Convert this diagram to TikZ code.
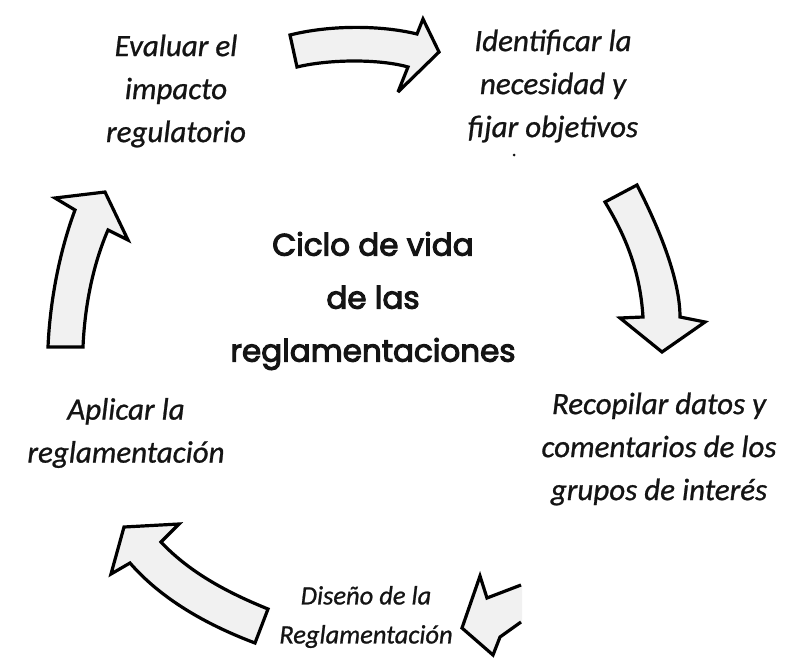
\documentclass[tikz,border=0pt]{standalone}
\usepackage{fontspec}
\setmainfont{Carlito}[ItalicFeatures={FakeBold=0.8}]
\newfontfamily\titlefont{Poppins}[FakeBold=3.5]
\definecolor{arrowfill}{HTML}{F1F1F1}
\definecolor{ink}{HTML}{141414}
\tikzset{
  bigarrow/.style={draw=black, fill=arrowfill, line width=3.2pt, line join=miter, miter limit=4},
  lbl/.style={align=center, text=ink, inner sep=0pt, font=\fontsize{31}{43}\selectfont\itshape},
  smalllbl/.style={align=center, text=ink, inner sep=0pt, font=\fontsize{26.5}{39}\selectfont\itshape},
  ttl/.style={align=center, text=ink, inner sep=0pt, font=\fontsize{31}{53}\selectfont\titlefont}
}
\begin{document}
\begin{tikzpicture}[x=1pt,y=-1pt]
\useasboundingbox (0,0) rectangle (789,661);

% labels
\node[lbl] (eval) at (176,91) {Evaluar el\\impacto\\regulatorio};
\node[lbl] (ident) at (553,86) {Identificar la\\necesidad y\\fijar objetivos};
\node[circle, fill=ink, inner sep=0pt, minimum size=3pt] (dot) at (514,155) {};
\node[lbl] (recop) at (659,449) {Recopilar datos y\\comentarios de los\\grupos de interés};
\node[lbl] (aplic) at (126,433) {Aplicar la\\reglamentación};
\node[smalllbl] (dise) at (366,617) {Diseño de la\\Reglamentación};
\node[ttl] (title) at (373,301) {Ciclo de vida\\de las\\reglamentaciones};

% top arrow (evaluar -> identificar)
\draw[bigarrow] (290,35) .. controls (330,25) and (380,25) .. (417,34)
  -- (423,19) -- (439,52) -- (398,92) -- (408,67)
  .. controls (380,59) and (330,59) .. (297,67) -- cycle;

% right arrow (identificar -> recopilar)
\draw[bigarrow] (605,202) -- (637,185)
  .. controls (660,230) and (680,280) .. (680,317)
  -- (705,322) -- (662,352) -- (620,318) -- (643,317)
  .. controls (640,270) and (625,235) .. (605,202) -- cycle;

% bottom-right arrow (recopilar -> diseno), clipped at right
\fill[arrowfill] (522,585) -- (487,598) -- (480,576) -- (462,628) -- (493,655) -- (500,637) -- (522,622) -- cycle;
\draw[bigarrow, fill=none] (521,585) -- (487,598) -- (480,576) -- (462,628) -- (493,655) -- (500,637) -- (521,622);

% bottom-left arrow (diseno -> aplicar)
\draw[bigarrow] (268,609) -- (255,643)
  .. controls (210,626) and (163,601) .. (130,563)
  -- (111,574) -- (124,527) -- (179,524) -- (161,542)
  .. controls (191,574) and (231,594) .. (268,609) -- cycle;

% left arrow (aplicar -> evaluar)
\draw[bigarrow] (48,347) -- (83,347)
  .. controls (85,300) and (95,260) .. (108,230)
  -- (128,240) -- (105,192) -- (55,198) -- (75,210)
  .. controls (60,250) and (50,300) .. (48,347) -- cycle;
\end{tikzpicture}
\end{document}
